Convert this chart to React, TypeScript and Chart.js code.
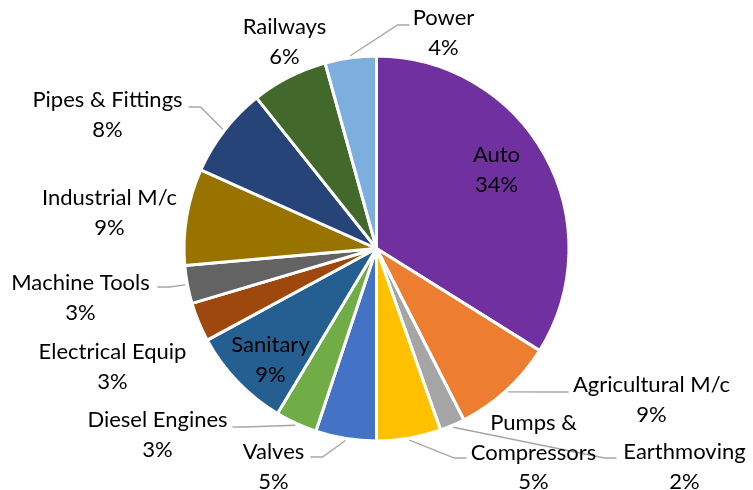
import React, { useEffect, useRef } from "react";
import { Chart, registerables } from "chart.js";

Chart.register(...registerables);

const categories = [
  "Auto",
  "Agricultural M/c",
  "Earthmoving",
  "Pumps & Compressors",
  "Valves",
  "Diesel Engines",
  "Sanitary",
  "Electrical Equip",
  "Machine Tools",
  "Industrial M/c",
  "Pipes & Fittings",
  "Railways",
  "Power",
];

const shares = [33.9, 8.6, 2.1, 5.4, 5.1, 3.5, 8.5, 3.3, 3.2, 8.1, 7.6, 6.4, 4.3];

const percentLabels = ["34%", "9%", "2%", "5%", "5%", "3%", "9%", "3%", "3%", "9%", "8%", "6%", "4%"];

const sliceColors = [
  "#7030A0",
  "#ED7D31",
  "#A5A5A5",
  "#FFC000",
  "#4472C4",
  "#70AD47",
  "#255E91",
  "#9E480E",
  "#636363",
  "#997300",
  "#264478",
  "#43682B",
  "#7CAFDD",
];

// label text lines (name may wrap)
const labelLines: string[][] = [
  ["Auto"],
  ["Agricultural M/c"],
  ["Earthmoving"],
  ["Pumps &", "Compressors"],
  ["Valves"],
  ["Diesel Engines"],
  ["Sanitary"],
  ["Electrical Equip"],
  ["Machine Tools"],
  ["Industrial M/c"],
  ["Pipes & Fittings"],
  ["Railways"],
  ["Power"],
];

// label placement relative to pie centre: [dx, dy of first line centre]
const labelOffsets: [number, number][] = [
  [120, -93.5],
  [275, 136.5],
  [308, 203.5],
  [157, 174.5],
  [-103, 203.5],
  [-219, 171.5],
  [-106, 96.5],
  [-264, 103.5],
  [-296, 34.5],
  [-267, -50.5],
  [-269, -148.5],
  [-92, -221.5],
  [67, -230.5],
];

// leader line end relative to centre and side (+1 label to right, -1 to left); null = none
const leaderEnds: ([number, number, number] | null)[] = [
  null,
  [192, 143.5, 1],
  [240, 209.5, 1],
  [90, 209.5, 1],
  [-66, 208.5, -1],
  [-144, 178.5, -1],
  null,
  null,
  [-219, 38.5, -1],
  null,
  [-188, -141.5, -1],
  null,
  [33, -223.5, 1],
];

const FONT = "22px Lato";
const LINE_H = 29.5;

const labelPlugin = {
  id: "pieLabels",
  afterDraw(chart: any) {
    const ctx = chart.ctx;
    const meta = chart.getDatasetMeta(0);
    ctx.save();
    meta.data.forEach((arc: any, i: number) => {
      const p = arc.getProps(["x", "y", "startAngle", "endAngle", "outerRadius"], true);
      const cx = p.x;
      const cy = p.y;
      const mid = (p.startAngle + p.endAngle) / 2;
      const le = leaderEnds[i];
      if (le) {
        const r = p.outerRadius + 2;
        const sx = cx + Math.cos(mid) * r;
        const sy = cy + Math.sin(mid) * r;
        const ex = cx + le[0];
        const ey = cy + le[1];
        const bx = ex - le[2] * 12;
        ctx.beginPath();
        ctx.strokeStyle = "#A6A6A6";
        ctx.lineWidth = 1.3;
        ctx.moveTo(sx, sy);
        ctx.lineTo(bx, ey);
        ctx.lineTo(ex, ey);
        ctx.stroke();
      }
      const lines = [...labelLines[i], percentLabels[i]];
      const [dx, dy] = labelOffsets[i];
      ctx.fillStyle = "#000000";
      ctx.font = FONT;
      ctx.textAlign = "center";
      ctx.textBaseline = "middle";
      lines.forEach((t, k) => {
        ctx.fillText(t, cx + dx, cy + dy + k * LINE_H);
      });
    });
    ctx.restore();
  },
};

export default function App() {
  const ref = useRef<HTMLCanvasElement | null>(null);
  useEffect(() => {
    if (!ref.current) return;
    const chart = new Chart(ref.current, {
      type: "pie",
      data: {
        labels: categories,
        datasets: [
          {
            data: shares,
            backgroundColor: sliceColors,
            borderColor: "#FFFFFF",
            borderWidth: 3,
          },
        ],
      },
      options: {
        responsive: false,
        animation: false,
        layout: { padding: { top: 54.5, bottom: 47.5, left: 182.5, right: 182.5 } },
        plugins: {
          legend: { display: false },
          tooltip: { enabled: false },
        },
      },
      plugins: [labelPlugin],
    });
    return () => chart.destroy();
  }, []);
  return (
    <div style={{ position: "absolute", left: 0, top: 0, width: 753, height: 490, background: "#fff" }}>
      <canvas ref={ref} width={753} height={490} />
    </div>
  );
}
